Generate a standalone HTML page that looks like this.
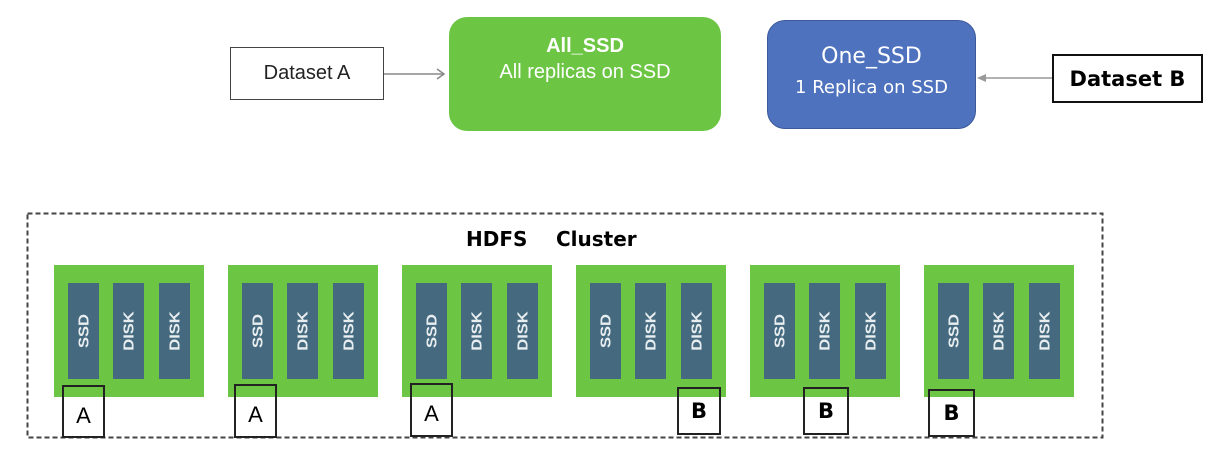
<!DOCTYPE html>
<html><head><meta charset="utf-8"><style>
body{margin:0;width:1216px;height:462px;background:#fff;position:relative;overflow:hidden;font-family:"Liberation Sans",sans-serif}
.a{position:absolute;box-sizing:border-box}
.node{background:#6cc644;width:150px;height:132px;top:265px}
.disk{background:#456a80;width:31px;height:96px;top:18px;position:absolute}
.disk span{position:absolute;left:50%;top:50%;transform:translate(-50%,-50%) rotate(-90deg) scaleX(1.1);color:#e8eef0;font-size:15px;font-weight:bold;white-space:nowrap}
.lbl{border:2px solid #222;background:transparent;font-size:22px;display:flex;align-items:center;justify-content:center;padding-top:8px}
.b{font-weight:bold;font-family:"DejaVu Sans","Liberation Sans",sans-serif;font-size:21px}
</style></head><body>
<div class="a" style="left:230px;top:47px;width:154px;height:53px;border:1px solid #444;display:flex;align-items:center;justify-content:center;font-size:20px;color:#222">Dataset A</div>
<svg class="a" style="left:0;top:0" width="1216" height="462">
<line x1="384" y1="74" x2="443" y2="74" stroke="#888" stroke-width="1.5"/>
<polyline points="437,69 444,74 437,79" fill="none" stroke="#888" stroke-width="1.5"/>
<line x1="1052" y1="78" x2="979" y2="78" stroke="#999" stroke-width="1.5"/>
<polygon points="977,78 986,74 986,82" fill="#999"/>
<rect x="27.5" y="213.5" width="1075" height="224" fill="none" stroke="#444" stroke-width="2" stroke-dasharray="5,3"/>
</svg>
<div class="a" style="left:449px;top:17px;width:272px;height:114px;background:#6cc644;border-radius:18px;color:#fff;text-align:center;padding-top:18px">
<div style="font-size:20px;font-weight:bold">All_SSD</div><div style="font-size:20px;margin-top:3px">All replicas on SSD</div></div>
<div class="a" style="left:767px;top:20px;width:209px;height:109px;background:#4e72be;border:1px solid #3c5a9a;border-radius:18px;color:#fff;text-align:center;padding-top:23px;font-family:'DejaVu Sans','Liberation Sans',sans-serif">
<div style="font-size:22px">One_SSD</div><div style="font-size:18px;margin-top:8px">1 Replica on SSD</div></div>
<div class="a b" style="left:1052px;top:54px;width:151px;height:49px;border:2px solid #111;display:flex;align-items:center;justify-content:center;font-size:21px">Dataset B</div>
<div class="a" style="left:466px;top:227px;font-size:20px;font-weight:bold;font-family:'DejaVu Sans','Liberation Sans',sans-serif">HDFS</div>
<div class="a" style="left:556px;top:227px;font-size:20px;font-weight:bold;font-family:'DejaVu Sans','Liberation Sans',sans-serif">Cluster</div>

<div class="a node" style="left:54px"><div class="disk" style="left:14px"><span>SSD</span></div><div class="disk" style="left:59px"><span>DISK</span></div><div class="disk" style="left:105px"><span>DISK</span></div></div>
<div class="a node" style="left:228px"><div class="disk" style="left:14px"><span>SSD</span></div><div class="disk" style="left:59px"><span>DISK</span></div><div class="disk" style="left:105px"><span>DISK</span></div></div>
<div class="a node" style="left:402px"><div class="disk" style="left:14px"><span>SSD</span></div><div class="disk" style="left:59px"><span>DISK</span></div><div class="disk" style="left:105px"><span>DISK</span></div></div>
<div class="a node" style="left:576px"><div class="disk" style="left:14px"><span>SSD</span></div><div class="disk" style="left:59px"><span>DISK</span></div><div class="disk" style="left:105px"><span>DISK</span></div></div>
<div class="a node" style="left:750px"><div class="disk" style="left:14px"><span>SSD</span></div><div class="disk" style="left:59px"><span>DISK</span></div><div class="disk" style="left:105px"><span>DISK</span></div></div>
<div class="a node" style="left:924px"><div class="disk" style="left:14px"><span>SSD</span></div><div class="disk" style="left:59px"><span>DISK</span></div><div class="disk" style="left:105px"><span>DISK</span></div></div>

<div class="a lbl" style="left:62px;top:385px;width:43px;height:53px">A</div>
<div class="a lbl" style="left:234px;top:384px;width:43px;height:54px">A</div>
<div class="a lbl" style="left:410px;top:383px;width:43px;height:54px">A</div>
<div class="a lbl b" style="left:677px;top:387px;width:44px;height:48px;padding-top:0">B</div>
<div class="a lbl b" style="left:803px;top:387px;width:46px;height:48px;padding-top:0">B</div>
<div class="a lbl b" style="left:928px;top:389px;width:47px;height:48px;padding-top:0">B</div>
</body></html>
